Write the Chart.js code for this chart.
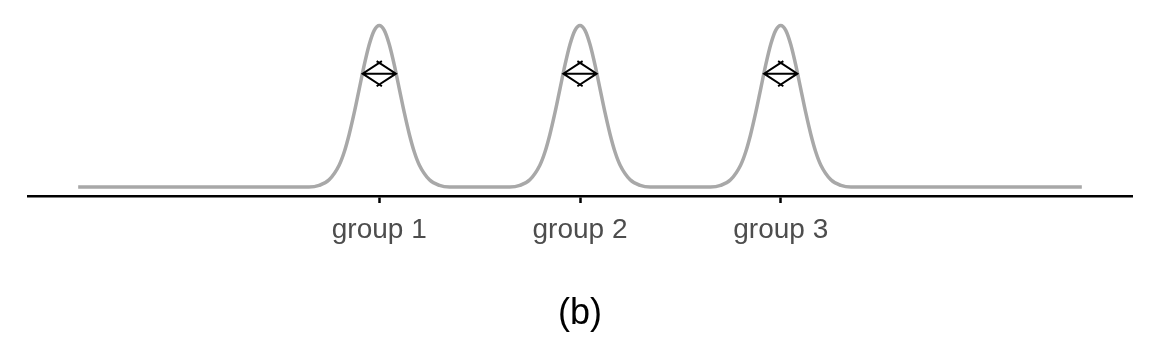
<!DOCTYPE html>
<html>
<head>
<meta charset="utf-8">
<script src="https://cdn.jsdelivr.net/npm/chart.js@4"></script>
<style>
  html, body { margin: 0; padding: 0; background: #fff; }
  #wrap { width: 1152px; height: 345px; }
</style>
</head>
<body>
<div id="wrap"><canvas id="chart"></canvas></div>
<script>
// group positions and their labels
const groupPos = [1, 2, 3];
const groupLabels = ['group 1', 'group 2', 'group 3'];

// density curve (three identical peaks)
const curveX = [
  -0.5,
  0.65, 0.7, 0.75, 0.8, 0.825, 0.85, 0.875, 0.9, 0.925, 0.95, 0.975, 1, 1.025, 1.05, 1.075, 1.1, 1.125, 1.15, 1.175, 1.2, 1.25, 1.3, 1.35,
  1.65, 1.7, 1.75, 1.8, 1.825, 1.85, 1.875, 1.9, 1.925, 1.95, 1.975, 2, 2.025, 2.05, 2.075, 2.1, 2.125, 2.15, 2.175, 2.2, 2.25, 2.3, 2.35,
  2.65, 2.7, 2.75, 2.8, 2.825, 2.85, 2.875, 2.9, 2.925, 2.95, 2.975, 3, 3.025, 3.05, 3.075, 3.1, 3.125, 3.15, 3.175, 3.2, 3.25, 3.3, 3.35,
  4.5
];
const curveY = [
  0,
  0, 0.04, 0.18, 0.54, 0.86, 1.30, 1.83, 2.42, 3.01, 3.52, 3.87, 3.99, 3.87, 3.52, 3.01, 2.42, 1.83, 1.30, 0.86, 0.54, 0.18, 0.04, 0,
  0, 0.04, 0.18, 0.54, 0.86, 1.30, 1.83, 2.42, 3.01, 3.52, 3.87, 3.99, 3.87, 3.52, 3.01, 2.42, 1.83, 1.30, 0.86, 0.54, 0.18, 0.04, 0,
  0, 0.04, 0.18, 0.54, 0.86, 1.30, 1.83, 2.42, 3.01, 3.52, 3.87, 3.99, 3.87, 3.52, 3.01, 2.42, 1.83, 1.30, 0.86, 0.54, 0.18, 0.04, 0,
  0
];

// double arrows across each peak
const arrowY = [2.8, 2.8, 2.8];
const arrowHalf = [0.083, 0.083, 0.083];

const caption = '(b)';

const curvePts = curveX.map((x, i) => ({ x: x, y: curveY[i] }));

const arrowPlugin = {
    id: 'arrows',
    afterDatasetsDraw: function(chart) {
        const ctx = chart.ctx;
        const xs = chart.scales.x;
        const ys = chart.scales.y;
        const head = 23;
        const ang = 33 * Math.PI / 180;
        ctx.save();
        ctx.strokeStyle = '#000';
        ctx.lineWidth = 2;
        groupPos.forEach((g, i) => {
            const x0 = xs.getPixelForValue(g - arrowHalf[i]);
            const x1 = xs.getPixelForValue(g + arrowHalf[i]);
            const y = ys.getPixelForValue(arrowY[i]);
            ctx.beginPath();
            ctx.moveTo(x0, y);
            ctx.lineTo(x1, y);
            // left head
            ctx.moveTo(x0 + head * Math.cos(ang), y - head * Math.sin(ang));
            ctx.lineTo(x0, y);
            ctx.lineTo(x0 + head * Math.cos(ang), y + head * Math.sin(ang));
            // right head
            ctx.moveTo(x1 - head * Math.cos(ang), y - head * Math.sin(ang));
            ctx.lineTo(x1, y);
            ctx.lineTo(x1 - head * Math.cos(ang), y + head * Math.sin(ang));
            ctx.stroke();
        });
        ctx.restore();
    }
};

new Chart(document.getElementById('chart'), {
    type: 'line',
    data: {
        datasets: [{
            data: curvePts,
            borderColor: '#a8a8a8',
            borderWidth: 3.5,
            pointRadius: 0,
            fill: false,
            cubicInterpolationMode: 'monotone'
        }]
    },
    options: {
        responsive: true,
        maintainAspectRatio: false,
        animation: false,
        layout: { padding: { left: 28, right: 20, top: 17, bottom: 0 } },
        plugins: {
            legend: { display: false },
            tooltip: { enabled: false }
        },
        scales: {
            x: {
                type: 'linear',
                min: -0.75,
                max: 4.75,
                afterBuildTicks: function(scale) {
                    scale.ticks = groupPos.map(v => ({ value: v }));
                },
                border: { display: true, color: '#000', width: 2.5 },
                grid: {
                    drawOnChartArea: false,
                    drawTicks: true,
                    tickLength: 7,
                    tickColor: '#000',
                    tickWidth: 2.5
                },
                ticks: {
                    color: '#4d4d4d',
                    padding: 10.5,
                    maxRotation: 0,
                    autoSkip: false,
                    font: { family: 'Liberation Sans, Arial, sans-serif', size: 28 },
                    callback: function(v) {
                        const i = groupPos.indexOf(v);
                        return i >= 0 ? groupLabels[i] : '';
                    }
                },
                title: {
                    display: true,
                    text: caption,
                    color: '#000',
                    font: { family: 'Liberation Sans, Arial, sans-serif', size: 36 },
                    padding: { top: 34.8, bottom: 9.4 }
                }
            },
            y: {
                display: false,
                min: -0.22,
                max: 4.2
            }
        }
    },
    plugins: [arrowPlugin]
});
</script>
</body>
</html>
